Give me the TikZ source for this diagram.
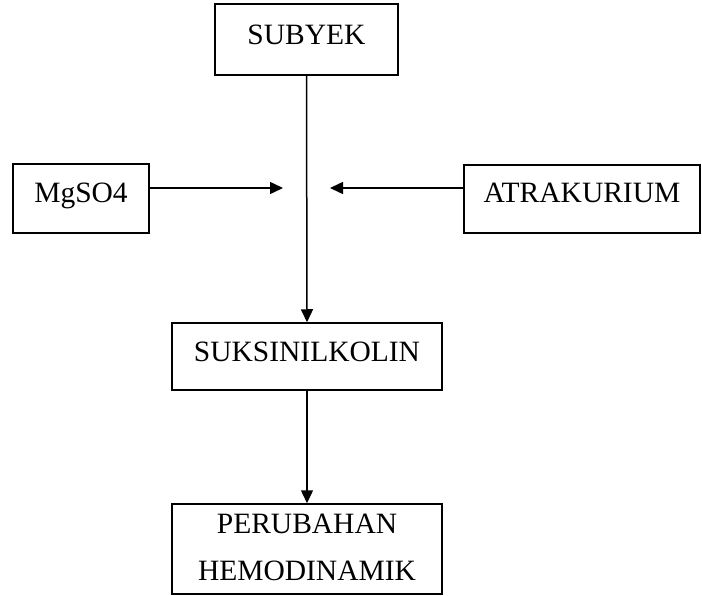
\documentclass[tikz,border=0pt]{standalone}
\usepackage{fontspec}
\setmainfont{Liberation Serif}
\usetikzlibrary{arrows.meta}
\begin{document}
\begin{tikzpicture}[x=1pt,y=-1pt,
  box/.style={draw,line width=1.5pt,inner sep=0pt,align=center,
    font=\fontsize{29.5pt}{47pt}\selectfont,text height=19pt,text depth=9pt},
  conn/.style={line width=1.5pt,-{Triangle[length=13pt,width=12pt]}}]
\useasboundingbox (0,0) rectangle (702,596);
\node[box,minimum width=183pt,minimum height=71pt,text depth=8pt] (subyek) at (306.5,39.5) {SUBYEK};
\node[box,minimum width=136pt,minimum height=69pt,text depth=11pt] (mg) at (81,198.5) {MgSO4};
\node[box,minimum width=236pt,minimum height=68pt,text depth=11pt] (atr) at (582,199) {ATRAKURIUM};
\node[box,minimum width=270pt,minimum height=67pt] (suk) at (307,356.5) {SUKSINILKOLIN};
\node[box,minimum width=270pt,minimum height=90pt,text height=66pt,text depth=4pt] (per) at (307,549) {PERUBAHAN\\HEMODINAMIK};
\coordinate (ml) at (283,188);
\coordinate (mr) at (330,188);
\draw[conn] (subyek.south) -- (suk.north);
\draw[conn] (mg.east |- ml) -- (ml);
\draw[conn] (atr.west |- mr) -- (mr);
\draw[conn] (suk.south) -- (per.north);
\end{tikzpicture}
\end{document}
